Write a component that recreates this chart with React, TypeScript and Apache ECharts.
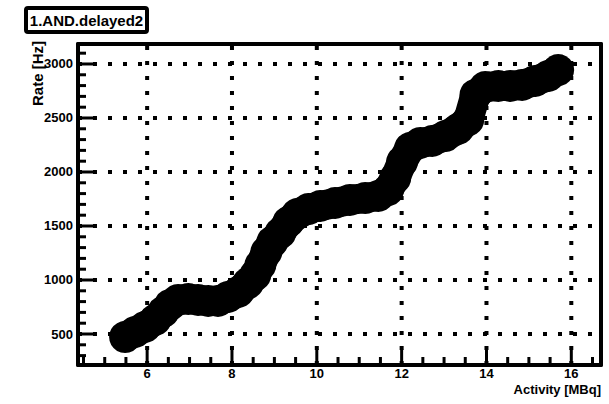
import React, { useEffect, useRef } from "react";
import * as echarts from "echarts";

const activity = [5.48, 5.72, 5.95, 6.19, 6.38, 6.54, 6.73, 6.97, 7.2, 7.44, 7.67, 7.91, 8.15, 8.38, 8.55, 8.67, 8.81, 8.95, 9.14, 9.33, 9.54, 9.8, 10.08, 10.43, 10.78, 11.14, 11.45, 11.68, 11.85, 12.01, 12.2, 12.44, 12.72, 13.03, 13.33, 13.57, 13.74, 13.97, 14.28, 14.56, 14.84, 15.15, 15.46, 15.69];
const rate = [472, 519, 565, 630, 704, 769, 815, 824, 815, 806, 806, 843, 889, 972, 1046, 1139, 1259, 1352, 1435, 1537, 1611, 1657, 1685, 1713, 1741, 1759, 1778, 1833, 1944, 2093, 2222, 2269, 2287, 2333, 2398, 2481, 2713, 2787, 2796, 2796, 2806, 2843, 2889, 2944];

const xMajorTicks = [6, 8, 10, 12, 14, 16];
const xMinorTicks = [4.5, 5, 5.5, 6.5, 7, 7.5, 8.5, 9, 9.5, 10.5, 11, 11.5, 12.5, 13, 13.5, 14.5, 15, 15.5, 16.5];
const yMajorTicks = [500, 1000, 1500, 2000, 2500, 3000];
const yMinorTicks = [300, 400, 600, 700, 800, 900, 1100, 1200, 1300, 1400, 1600, 1700, 1800, 1900, 2100, 2200, 2300, 2400, 2600, 2700, 2800, 2900, 3100];

const titleText = "1.AND.delayed2";
const xTitle = "Activity [MBq]";
const yTitle = "Rate [Hz]";

const X_MIN = 4.37;
const X_MAX = 16.7;
const Y_MIN = 213;
const Y_MAX = 3185;

const FONT = "'Liberation Sans', Arial, Helvetica, sans-serif";
const TICK_COLOR = "#000";

function tickSeries(values: number[], axis: "x" | "y", len: number) {
  return {
    type: "custom",
    silent: true,
    z: 4,
    data: values.map((v) => (axis === "x" ? [v, Y_MIN] : [X_MIN, v])),
    renderItem: (_params: any, api: any) => {
      const p = api.coord([api.value(0), api.value(1)]);
      const shape =
        axis === "x"
          ? { x1: p[0], y1: p[1], x2: p[0], y2: p[1] - len }
          : { x1: p[0], y1: p[1], x2: p[0] + len, y2: p[1] };
      return { type: "line", shape, style: { stroke: TICK_COLOR, lineWidth: 3 } };
    },
  };
}

function gridSeries(values: number[], axis: "x" | "y") {
  return {
    type: "custom",
    silent: true,
    z: 2,
    data: values.map((v) => (axis === "x" ? [v, Y_MIN] : [X_MIN, v])),
    renderItem: (_params: any, api: any) => {
      const p0 = api.coord([api.value(0), api.value(1)]);
      const p1 =
        axis === "x" ? api.coord([api.value(0), Y_MAX]) : api.coord([X_MAX, api.value(1)]);
      return {
        type: "line",
        shape: { x1: p0[0], y1: p0[1], x2: p1[0], y2: p1[1] },
        style: { stroke: "#000", lineWidth: 4, lineDash: [4, 11] },
      };
    },
  };
}

export default function App() {
  const ref = useRef<HTMLDivElement>(null);
  useEffect(() => {
    if (!ref.current) return;
    const chart = echarts.init(ref.current, null, { renderer: "svg" });
    const data = activity.map((a, i) => [a, rate[i]]);
    chart.setOption({
      animation: false,
      backgroundColor: "#fff",
      grid: { left: 78, right: 8, top: 44, bottom: 39 },
      xAxis: [
        {
          type: "value",
          min: X_MIN,
          max: X_MAX,
          minInterval: 2,
          maxInterval: 2,
          axisLine: { show: true, onZero: false, lineStyle: { color: "#000", width: 4 } },
          axisTick: { show: false },
          minorTick: { show: false },
          splitLine: { show: false },
          axisLabel: {
            color: "#000",
            fontFamily: FONT,
            fontWeight: "bold",
            fontSize: 13,
            margin: 2,
            showMinLabel: false,
            showMaxLabel: false,
            formatter: (v: number) => String(v),
          },
        },
        {
          type: "value",
          position: "top",
          min: X_MIN,
          max: X_MAX,
          axisLine: { show: true, onZero: false, lineStyle: { color: "#000", width: 4 } },
          axisTick: { show: false },
          axisLabel: { show: false },
          splitLine: { show: false },
        },
      ],
      yAxis: [
        {
          type: "value",
          min: Y_MIN,
          max: Y_MAX,
          minInterval: 500,
          maxInterval: 500,
          axisLine: { show: true, onZero: false, lineStyle: { color: "#000", width: 4 } },
          axisTick: { show: false },
          minorTick: { show: false },
          splitLine: { show: false },
          axisLabel: {
            color: "#000",
            fontFamily: FONT,
            fontWeight: "bold",
            fontSize: 13,
            margin: 5,
            showMinLabel: false,
            showMaxLabel: false,
            formatter: (v: number) => String(v),
          },
        },
        {
          type: "value",
          position: "right",
          min: Y_MIN,
          max: Y_MAX,
          axisLine: { show: true, onZero: false, lineStyle: { color: "#000", width: 4 } },
          axisTick: { show: false },
          axisLabel: { show: false },
          splitLine: { show: false },
        },
      ],
      series: [
        gridSeries(xMajorTicks, "x"),
        gridSeries(yMajorTicks, "y"),
        tickSeries(xMajorTicks, "x", 16),
        tickSeries(xMinorTicks, "x", 8),
        tickSeries(yMajorTicks, "y", 16),
        tickSeries(yMinorTicks, "y", 8),
        {
          type: "line",
          data,
          showAllSymbol: true,
          symbol: "circle",
          symbolSize: 32,
          itemStyle: { color: "#000" },
          lineStyle: { color: "#000", width: 30, cap: "round", join: "round" },
          z: 5,
        },
      ],
      graphic: [
        {
          type: "rect",
          shape: { x: 26, y: 8, width: 121, height: 24, r: 2 },
          style: { fill: "#fff", stroke: "#000", lineWidth: 4 },
          z: 100,
        },
        {
          type: "text",
          x: 86.5,
          y: 20.5,
          style: {
            text: titleText,
            font: `bold 15px ${FONT}`,
            fill: "#000",
            align: "center",
            verticalAlign: "middle",
          },
          z: 101,
        },
        {
          type: "text",
          x: 601,
          y: 389,
          style: {
            text: xTitle,
            font: `bold 13px ${FONT}`,
            fill: "#000",
            align: "right",
            verticalAlign: "middle",
          },
        },
        {
          type: "text",
          x: 37,
          y: 41,
          rotation: Math.PI / 2,
          style: {
            text: yTitle,
            font: `bold 15px ${FONT}`,
            fill: "#000",
            align: "right",
            verticalAlign: "middle",
          },
        },
      ],
    });
    return () => chart.dispose();
  }, []);
  return (
    <div
      ref={ref}
      style={{ position: "fixed", left: 0, top: 0, width: 609, height: 404, background: "#fff" }}
    />
  );
}
